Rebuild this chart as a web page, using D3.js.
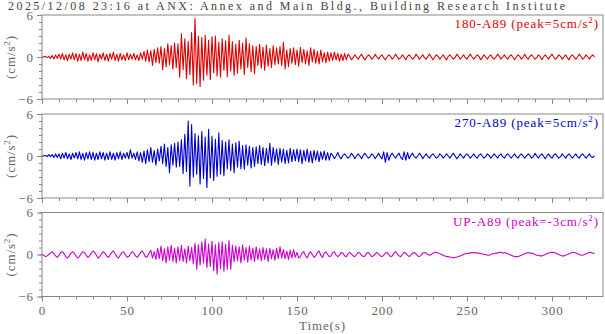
<!DOCTYPE html>
<html>
<head>
<meta charset="utf-8">
<script src="https://cdn.jsdelivr.net/npm/d3@7"></script>
<style>
  html, body { margin: 0; padding: 0; background: #fff; }
  svg { display: block; }
  text { font-family: "Liberation Serif", "Times New Roman", serif; }
</style>
</head>
<body>
<div id="chart"></div>
<script>
// --- data (one sample per second, cm/s^2) ---
var title = '2025/12/08 23:16 at ANX: Annex and Main Bldg., Building Research Institute';
var dt = 1;
var channels = ['180-A89', '270-A89', 'UP-A89'];
var peaks = [5, 5, -3];
var xTicks = [0, 50, 100, 150, 200, 250, 300];
var yTicks = [-6, 0, 6];

var acc180 = [
  0,0,0.1,-0.1,0.1,-0.2,0.2,-0.3,0.3,-0.2,
  0.4,-0.3,0.5,-0.4,0.3,-0.5,0.4,-0.3,0.6,-0.4,
  0.5,-0.6,0.4,-0.5,0.7,-0.4,0.5,-0.6,0.3,-0.5,
  0.6,-0.4,0.5,-0.7,0.4,-0.3,0.6,-0.5,0.4,-0.6,
  0.5,-0.3,0.7,-0.5,0.4,-0.6,0.5,-0.4,0.3,-0.5,
  0.6,-0.4,0.4,-0.3,0.5,-0.4,0.3,-0.5,0.6,-0.3,
  0.8,-0.6,1.0,-0.7,0.9,-1.2,1.1,-0.8,1.3,-0.9,
  1.5,-1.8,1.2,-1.4,1.9,-1.1,1.6,-1.7,2.0,-1.5,
  1.9,-2.9,3.3,-1.8,2.6,-3.1,2.2,-2.5,3.5,-4.0,
  5.5,-3.8,3.0,-4.2,2.8,-3.3,3.1,-2.6,2.4,-3.2,
  2.9,-2.2,3.0,-2.7,2.1,-2.9,2.6,-1.9,2.3,-2.8,
  3.1,-2.0,2.2,-2.6,1.8,-2.3,2.4,-1.7,2.0,-2.5,
  2.7,-1.5,1.9,-2.1,1.6,-2.4,1.5,-1.2,1.8,-1.6,
  1.4,-1.9,1.7,-1.3,1.2,-1.5,1.6,-1.1,1.3,-1.0,
  1.5,-1.2,2.1,-1.7,1.0,-1.4,1.2,-0.9,1.3,-1.1,
  1.0,-1.3,1.4,-0.8,1.1,-1.0,0.9,-1.2,1.3,-0.7,
  1.1,-0.9,0.8,-1.0,1.0,-0.7,0.6,-0.8,0.7,-0.6,
  0.6,-0.5,0.7,-0.4,0.5,-0.6,0.4,-0.5,0.5,-0.4,
  0.4,0.1,-0.4,-0.1,0.3,0,-0.3,0.1,0.4,-0.1,
  -0.4,0,0.3,0.1,-0.3,-0.1,0.4,0,-0.3,0.1,
  0.3,-0.1,-0.4,0,0.3,0.1,-0.3,0,0.4,0,
  -0.3,-0.1,0.3,0,-0.4,0.1,0.3,0,-0.3,-0.1,
  0.4,0.1,-0.3,0,0.3,-0.1,-0.3,0.1,0.4,0,
  -0.4,0,0.3,0.1,-0.3,0,0.3,-0.1,-0.4,0.1,
  0.3,0,-0.3,-0.1,0.4,0.1,-0.3,0,0.3,-0.1,
  -0.3,0.1,0.4,0,-0.3,0,0.3,0.1,-0.4,-0.1,
  0.3,0,-0.3,0.1,0.3,-0.1,-0.3,0,0.4,0.1,
  -0.3,0,0.3,-0.1,-0.3,0.1,0.3,0,-0.4,0,
  0.3,0.1,-0.3,0,0.4,-0.1,-0.3,0.1,0.3,0,
  -0.3,-0.1,0.3,0.1,-0.4,0,0.3,0,-0.3,0.1,
  0.4,0,-0.3,-0.1,0.3,0.1,-0.3,0,0.3,-0.1,
  -0.4,0.1,0.3,0,-0.3,0,0.4,0.1,-0.3,-0.1,
  0.3,0,-0.3,0.1,0.3,0
];

var acc270 = [
  0,0,0.1,-0.1,0.2,-0.1,0.2,-0.2,0.3,-0.2,
  0.3,-0.4,0.4,-0.3,0.5,-0.4,0.3,-0.5,0.4,-0.3,
  0.5,-0.4,0.6,-0.5,0.4,-0.6,0.5,-0.4,0.6,-0.5,
  0.5,-0.6,0.4,-0.5,0.6,-0.4,0.5,-0.6,0.4,-0.5,
  0.6,-0.5,0.4,-0.6,0.5,-0.4,0.6,-0.5,0.4,-0.3,
  0.5,-0.4,0.9,-0.3,0.4,-0.5,0.6,-0.7,0.5,-0.9,
  0.7,-1.1,0.9,-0.8,1.2,-0.9,0.8,-1.3,1.0,-0.7,
  1.4,-1.1,1.7,-1.5,1.2,-2.4,1.6,-1.3,1.8,-1.6,
  2.0,-1.5,2.3,-2.5,3.1,-2.2,5.0,-4.3,4.5,-3.0,
  3.2,-2.6,2.9,-4.0,3.5,-3.2,2.7,-4.5,3.8,-3.1,
  2.8,-3.5,2.4,-2.9,3.3,-2.6,2.2,-2.8,2.0,-1.8,
  2.3,-2.1,1.7,-2.4,1.9,-1.6,2.1,-1.8,1.5,-1.9,
  1.6,-1.3,1.4,-1.7,1.2,-1.5,1.3,-1.1,1.5,-1.2,
  1.2,-1.4,1.1,-1.0,1.8,-1.3,1.2,-0.9,1.0,-1.2,
  1.1,-0.9,1.0,-1.1,0.8,-1.0,1.1,-0.8,0.9,-0.7,
  1.0,-0.8,0.9,-1.1,0.8,-0.7,1.0,-0.9,0.7,-1.0,
  0.8,-0.6,0.7,-0.8,0.6,-0.5,0.7,-0.6,0.5,-0.6,
  0.4,0.1,-0.4,0,0.5,-0.1,-0.4,0.1,0.3,0,
  -0.3,-0.1,0.4,0.1,-0.4,0,0.3,0,-0.4,0.1,
  0.4,0,-0.3,-0.1,0.3,0.1,-0.4,0,0.4,-0.1,
  -0.4,0.6,-0.9,0.5,-0.6,0.1,0.4,0,-0.3,0.1,
  0.4,-0.2,-0.5,0.6,-0.6,0.5,-0.4,0.1,0.4,-0.1,
  -0.3,0,0.4,0.1,-0.4,0,0.3,-0.1,-0.3,0.1,
  0.3,0,-0.3,-0.1,0.3,0.1,-0.3,0,0.3,0,
  -0.3,0.1,0.4,0,-0.4,-0.1,0.3,0,-0.3,0.1,
  0.3,0,-0.3,0,0.3,-0.1,-0.3,0.1,0.3,0,
  -0.3,-0.1,0.3,0.1,-0.3,0,0.3,0,-0.3,0.1,
  0.3,-0.1,-0.3,0.1,0.3,0,-0.3,0,0.3,-0.1,
  -0.3,0.1,0.3,0,-0.3,0,0.3,0.1,-0.3,-0.1,
  0.4,0,-0.3,0.1,0.3,0,-0.4,0,0.3,-0.1,
  -0.3,0.1,0.3,0,-0.3,-0.1,0.3,0,-0.3,0.1,
  0.3,0,-0.3,0,0.3,-0.1,-0.3,0.1,0.3,0,
  -0.3,0,0.3,-0.1,-0.2,0
];

var accUp = [
  0,-0.1,-0.3,-0.2,0,0.2,0.4,0.1,-0.2,-0.4,
  -0.1,0.3,0.4,0.1,-0.3,-0.5,-0.2,0.2,0.4,0.2,
  -0.2,-0.5,-0.3,0.1,0.4,0.3,-0.1,-0.4,-0.2,0.2,
  0.5,0.3,-0.1,-0.5,-0.3,0.1,0.4,0.2,-0.2,-0.4,
  -0.1,0.3,0.5,0.1,-0.3,-0.5,-0.1,0.3,0.4,0,
  -0.4,-0.3,0.1,0.4,0.2,-0.2,-0.4,-0.1,0.3,0.5,
  0.1,-0.4,-0.3,0.2,0.6,-0.5,0.4,-0.7,0.9,-0.6,
  1.2,-0.9,0.8,-1.2,1.1,-0.8,1.3,-1.0,0.9,-1.2,
  1.1,-0.9,1.3,-1.0,0.8,-1.2,1.2,-0.9,1.0,-1.3,
  1.6,-2.1,1.4,-1.5,1.8,-1.2,2.2,-1.9,1.5,-1.7,
  1.9,-2.3,1.4,-2.8,1.7,-2.0,1.8,-2.4,1.5,-2.1,
  2.0,-2.1,1.3,-1.0,1.2,-0.9,1.1,-1.2,1.4,-0.8,
  1.0,-1.1,1.2,-0.8,0.9,-1.0,1.1,-0.7,0.8,-0.9,
  1.0,-0.7,0.8,-1.0,0.9,-0.6,0.7,-0.8,0.9,-0.6,
  1.1,-0.5,0.7,-0.6,0.5,-0.7,0.6,-0.5,0.7,-0.4,
  0.3,-0.5,-0.3,0.2,0.4,-0.2,-0.5,0.1,0.4,0,
  -0.4,-0.2,0.3,0.5,-0.1,-0.4,0.2,0.4,0,-0.3,
  -0.2,0.3,0.4,-0.1,-0.3,-0.1,0.3,0.2,-0.2,-0.3,
  0.1,0.3,0.1,-0.2,-0.3,0,0.3,0.2,-0.1,-0.3,
  -0.2,0.2,0.3,0,-0.3,-0.2,0.1,0.3,0.1,-0.2,
  -0.3,-0.1,0.2,0.3,0,-0.3,-0.2,0.2,0.4,0.1,
  -0.2,-0.3,0,0.3,0.2,-0.1,-0.3,-0.1,0.2,0.3,
  0.1,-0.2,-0.3,-0.1,0.2,0.3,0.2,0,-0.1,0,
  0.2,0.3,0.3,0.2,0.1,0,-0.1,-0.2,-0.3,-0.3,
  -0.4,-0.4,-0.5,-0.4,-0.4,-0.3,-0.2,-0.1,0,0.1,
  0.1,0.2,0.2,0.3,0.2,0.3,0.2,0.2,0.1,0.1,
  0,0,-0.1,-0.1,0,0.1,0.1,0.2,0.2,0.3,
  0.3,0.2,0.3,0.2,0.1,0,-0.1,-0.2,-0.3,-0.3,
  -0.3,-0.2,-0.1,0,0.1,0.2,0.3,0.2,0.2,0.1,
  0,-0.1,-0.1,-0.2,-0.2,-0.1,0,0.1,0.2,0.3,
  0.3,0.3,0.2,0.1,0,-0.1,-0.2,-0.2,-0.1,0,
  0.1,0.2,0.3,0.3,0.2,0.1,0,-0.1,-0.1,0,
  0.1,0.2,0.3,0.3,0.2,0.1
];

(function (d3) {
  'use strict';

  var W = 605, H = 334,
      left = 42, right = 603,
      panelTop = [15, 114, 212.5],
      panelH = 84,
      colors = ['#dd0000', '#0000cc', '#cc00cc'],
      series = [acc180, acc270, accUp],
      gray = '#666',
      frame = '#888';

  var svg = d3.select('#chart')
      .append('svg')
      .attr('width', W)
      .attr('height', H);

  var x = d3.scaleLinear().domain([0, 330]).range([left, right]);

  // title, stretched to the width it has in the record
  var t = svg.append('text')
      .attr('x', 8)
      .attr('y', 10)
      .attr('fill', '#444')
      .style('font-size', '12px')
      .text(title);
  var w0 = t.node().getComputedTextLength();
  t.style('letter-spacing', ((557 - w0) / (title.length - 1)) + 'px');

  series.forEach(function (values, i) {
    var top = panelTop[i],
        y = d3.scaleLinear().domain([-6, 6]).range([top + panelH, top]),
        g = svg.append('g');

    // minor ticks
    g.append('g')
        .attr('transform', 'translate(' + left + ',0)')
        .call(d3.axisLeft(y).tickValues(d3.range(-6, 7, 1)).tickSize(3).tickFormat(''))
        .call(styleAxis);
    g.append('g')
        .attr('transform', 'translate(0,' + (top + panelH) + ')')
        .call(d3.axisBottom(x).tickValues(d3.range(0, 330, 10)).tickSize(3).tickFormat(''))
        .call(styleAxis);

    // major ticks + labels
    g.append('g')
        .attr('transform', 'translate(' + left + ',0)')
        .call(d3.axisLeft(y).tickValues(yTicks).tickSize(5).tickPadding(3))
        .call(styleAxis);
    var xa = g.append('g')
        .attr('transform', 'translate(0,' + (top + panelH) + ')')
        .call(d3.axisBottom(x).tickValues(xTicks).tickSize(5).tickPadding(4))
        .call(styleAxis);
    if (i < series.length - 1) {
        xa.selectAll('.tick text').remove();
    }

    // frame
    g.append('rect')
        .attr('x', left)
        .attr('y', top)
        .attr('width', right - left)
        .attr('height', panelH)
        .attr('fill', 'none')
        .attr('stroke', frame)
        .attr('stroke-width', 1);

    // waveform
    var line = d3.line()
        .x(function (d, k) { return x(k * dt); })
        .y(function (d) { return y(d); });
    g.append('path')
        .datum(values)
        .attr('d', line)
        .attr('fill', 'none')
        .attr('stroke', colors[i])
        .attr('stroke-width', 1.1)
        .attr('stroke-linejoin', 'round');

    // channel label
    var lab = g.append('text')
        .attr('x', right - 4)
        .attr('y', top + 13)
        .attr('text-anchor', 'end')
        .attr('fill', colors[i])
        .style('font-size', '13px')
        .style('letter-spacing', '0.9px');
    lab.append('tspan').text(channels[i] + ' (peak=' + peaks[i] + 'cm/s');
    lab.append('tspan').attr('dy', -5).style('font-size', '9px').text('2');
    lab.append('tspan').attr('dy', 5).text(')');

    // unit label
    var ul = g.append('text')
        .attr('transform', 'translate(15,' + (top + panelH / 2) + ') rotate(-90)')
        .attr('text-anchor', 'middle')
        .attr('fill', gray)
        .style('font-size', '13px')
        .style('letter-spacing', '0.9px');
    ul.append('tspan').text('(cm/s');
    ul.append('tspan').attr('dy', -5).style('font-size', '9px').text('2');
    ul.append('tspan').attr('dy', 5).text(')');
  });

  svg.append('text')
      .attr('x', (left + right) / 2)
      .attr('y', 330)
      .attr('text-anchor', 'middle')
      .attr('fill', gray)
      .style('font-size', '13px')
      .style('letter-spacing', '0.9px')
      .text('Time(s)');

  function styleAxis(sel) {
    sel.select('.domain').remove();
    sel.selectAll('.tick line').attr('stroke', frame);
    sel.selectAll('.tick text')
        .attr('fill', gray)
        .style('font-family', '"Liberation Serif", serif')
        .style('font-size', '13px')
        .style('letter-spacing', '0.9px');
  }
})(d3);
</script>
</body>
</html>
